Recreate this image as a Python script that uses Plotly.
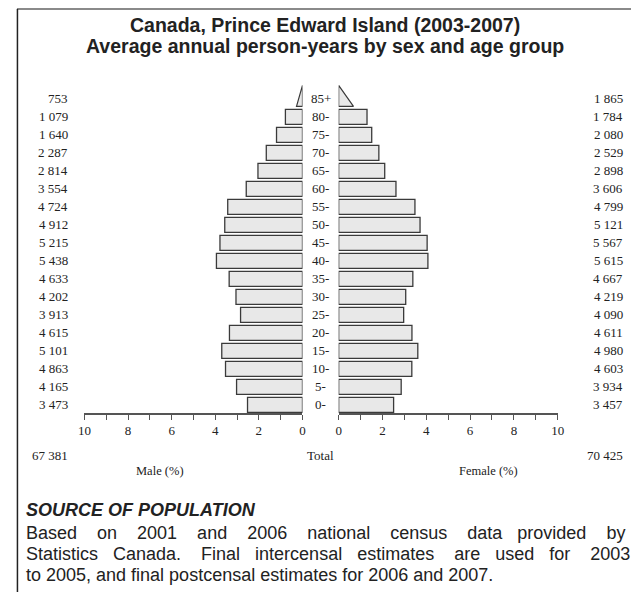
import plotly.graph_objects as go

ages = ["85+", "80-", "75-", "70-", "65-", "60-", "55-", "50-", "45-", "40-",
        "35-", "30-", "25-", "20-", "15-", "10-", "5-", "0-"]
male = [753, 1079, 1640, 2287, 2814, 3554, 4724, 4912, 5215, 5438,
        4633, 4202, 3913, 4615, 5101, 4863, 4165, 3473]
female = [1865, 1784, 2080, 2529, 2898, 3606, 4799, 5121, 5567, 5615,
          4667, 4219, 4090, 4611, 4980, 4603, 3934, 3457]
male_total = 67381
female_total = 70425
tick_vals = list(range(0, 11))
tick_text = ["0", "", "2", "", "4", "", "6", "", "8", "", "10"]

def fmt(n):
    return f"{n:,}".replace(",", " ")

grand = male_total + female_total
ages_b = ages[::-1]
male_b = male[::-1]
female_b = female[::-1]
male_pct = [v / grand * 100 for v in male_b]
female_pct = [v / grand * 100 for v in female_b]
n = len(ages_b)
idx = list(range(n))

# page has an 8px body margin: work in screenshot pixels, convert to paper
OFF = 8
W, H = 639 - OFF, 592 - OFF
def px(x):
    return (x - OFF) / W
def py(y):
    return (H - (y - OFF)) / H

BAR_FILL = "#e8e8e8"
BAR_LINE = "#3a3a3a"
SERIF = "Liberation Serif"
SANS = "Liberation Sans"
TXT = "#222"

fig = go.Figure()
fig.add_trace(go.Bar(x=male_pct[:-1], y=idx[:-1], orientation="h", width=0.83,
                     marker=dict(color=BAR_FILL, line=dict(color=BAR_LINE, width=1.3)),
                     xaxis="x", yaxis="y", showlegend=False, hoverinfo="skip"))
fig.add_trace(go.Bar(x=female_pct[:-1], y=idx[:-1], orientation="h", width=0.83,
                     marker=dict(color=BAR_FILL, line=dict(color=BAR_LINE, width=1.3)),
                     xaxis="x2", yaxis="y", showlegend=False, hoverinfo="skip"))
k = n - 1
mtop = male_pct[-1] / 2
ftop = female_pct[-1] / 2
fig.add_trace(go.Scatter(x=[0, mtop, 0, 0], y=[k + 0.75, k - 0.42, k - 0.42, k + 0.75],
                         mode="lines", fill="toself", fillcolor=BAR_FILL,
                         line=dict(color=BAR_LINE, width=1.2), xaxis="x", yaxis="y",
                         showlegend=False, hoverinfo="skip"))
fig.add_trace(go.Scatter(x=[0, ftop, 0, 0], y=[k + 0.75, k - 0.42, k - 0.42, k + 0.75],
                         mode="lines", fill="toself", fillcolor=BAR_FILL,
                         line=dict(color=BAR_LINE, width=1.2), xaxis="x2", yaxis="y",
                         showlegend=False, hoverinfo="skip"))

axis_common = dict(showgrid=False, zeroline=False, showline=True, linecolor="#555",
                   linewidth=1.5, ticks="outside", ticklen=5, tickcolor="#555",
                   tickwidth=1.2, tickvals=tick_vals, ticktext=tick_text,
                   tickfont=dict(family=SERIF, size=13, color=TXT), fixedrange=True)

fig.update_layout(
    width=W, height=H,
    margin=dict(l=0, r=0, t=0, b=0),
    paper_bgcolor="white", plot_bgcolor="white",
    barmode="overlay",
    xaxis=dict(domain=[px(79), px(302)], range=[10, 0], anchor="y", **axis_common),
    xaxis2=dict(domain=[px(339), px(563)], range=[0, 10], anchor="y", **axis_common),
    yaxis=dict(domain=[py(413), py(83)], range=[-0.45, 17.88], showgrid=False,
               zeroline=False, showline=False, showticklabels=False, ticks="",
               fixedrange=True),
)

ann = []
for i in idx:
    ann.append(dict(x=px(320.5), y=i, xref="paper", yref="y", text=ages_b[i],
                    showarrow=False, xanchor="center", yanchor="middle",
                    font=dict(family=SERIF, size=13, color=TXT)))
    ann.append(dict(x=px(64), y=i, xref="paper", yref="y", text=fmt(male_b[i]),
                    showarrow=False, xanchor="right", yanchor="middle",
                    font=dict(family=SERIF, size=13, color=TXT)))
    ann.append(dict(x=px(632), y=i, xref="paper", yref="y", text=fmt(female_b[i]),
                    showarrow=False, xanchor="right", yanchor="middle",
                    font=dict(family=SERIF, size=13, color=TXT)))

serif13 = dict(family=SERIF, size=13, color=TXT)
serif_small = dict(family=SERIF, size=12.5, color=TXT)
ann += [
    dict(x=px(64), y=py(455), xref="paper", yref="paper", text=fmt(male_total),
         showarrow=False, xanchor="right", yanchor="middle", font=serif13),
    dict(x=px(320.5), y=py(455), xref="paper", yref="paper", text="Total",
         showarrow=False, xanchor="center", yanchor="middle", font=serif13),
    dict(x=px(632), y=py(455), xref="paper", yref="paper", text=fmt(female_total),
         showarrow=False, xanchor="right", yanchor="middle", font=serif13),
    dict(x=px(156), y=py(471), xref="paper", yref="paper", text="Male (%)",
         showarrow=False, xanchor="center", yanchor="middle", font=serif_small),
    dict(x=px(492), y=py(471), xref="paper", yref="paper", text="Female (%)",
         showarrow=False, xanchor="center", yanchor="middle", font=serif_small),
    dict(x=px(325.5), y=py(25), xref="paper", yref="paper",
         text="<b>Canada, Prince Edward Island (2003-2007)</b>",
         showarrow=False, xanchor="center", yanchor="middle",
         font=dict(family=SANS, size=19.5, color=TXT)),
    dict(x=px(325.5), y=py(46), xref="paper", yref="paper",
         text="<b>Average annual person-years by sex and age group</b>",
         showarrow=False, xanchor="center", yanchor="middle",
         font=dict(family=SANS, size=19.5, color=TXT)),
    dict(x=px(17), y=py(510), xref="paper", yref="paper",
         text="<b><i>SOURCE OF POPULATION</i></b>",
         showarrow=False, xanchor="left", yanchor="middle",
         font=dict(family=SANS, size=18, color=TXT)),
]
NB = "\u00a0"
def justify(words, extra):
    out = words[0]
    for g, w in enumerate(words[1:]):
        out += " " + NB * extra[g] + w
    return out

line1 = justify("Based on 2001 and 2006 national census data provided by".split(),
                [3, 3, 3, 3, 3, 3, 3, 2, 3])
line2 = justify("Statistics Canada. Final intercensal estimates are used for 2003".split(),
                [2, 3, 2, 2, 3, 2, 2, 3, 2])
line3 = "to 2005, and final postcensal estimates for 2006 and 2007."
for j, line in enumerate([line1, line2, line3]):
    ann.append(dict(x=px(17), y=py(533 + 21 * j), xref="paper", yref="paper",
                    text=line, showarrow=False, xanchor="left", yanchor="middle",
                    font=dict(family=SANS, size=18, color=TXT)))
fig.update_layout(annotations=ann)

fig.update_layout(shapes=[
    dict(type="line", xref="paper", yref="paper", x0=px(10), x1=1, y0=py(9), y1=py(9),
         line=dict(color="#8a8a8a", width=2)),
    dict(type="line", xref="paper", yref="paper", x0=px(10.5), x1=px(10.5), y0=py(9), y1=0,
         line=dict(color=TXT, width=1.5)),
])

fig.write_html("out.html")
